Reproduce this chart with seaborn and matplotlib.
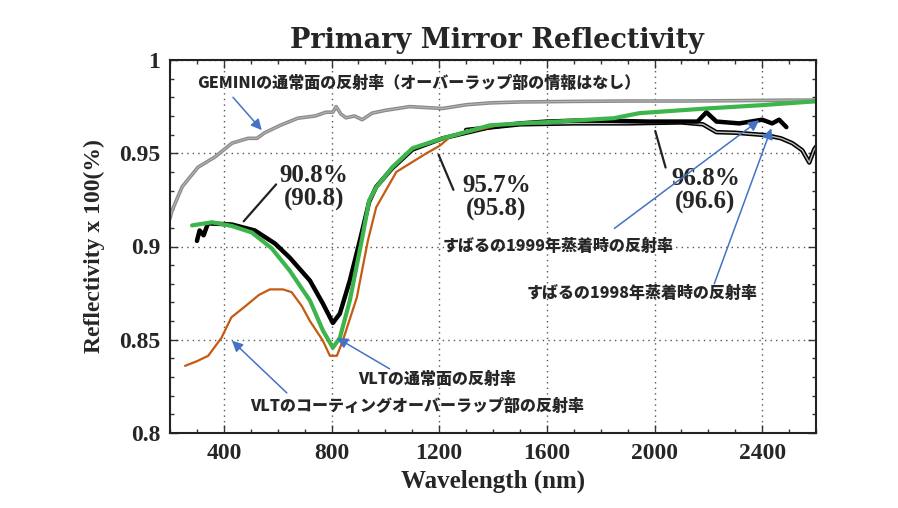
import matplotlib
matplotlib.use("Agg")
import matplotlib.pyplot as plt
import seaborn as sns
import pandas as pd
from matplotlib.ticker import MultipleLocator, FixedLocator

# wavelength (nm) / reflectivity
gemini_wl = [200, 207, 245, 304, 367, 430, 490, 523, 552, 610, 675, 740, 779, 805, 817, 835, 854,
             885, 914, 951, 1000, 1090, 1150, 1213, 1300, 1389, 1500, 1700, 1900, 2100, 2300, 2500, 2600]
gemini_r = [0.915, 0.919, 0.932, 0.9425, 0.948, 0.9554, 0.958, 0.958, 0.961, 0.965, 0.9688, 0.970,
            0.972, 0.972, 0.975, 0.971, 0.969, 0.970, 0.968, 0.9715, 0.973, 0.975, 0.9745, 0.974,
            0.976, 0.977, 0.9775, 0.9778, 0.978, 0.978, 0.9782, 0.9785, 0.9785]

vlt_wl = [282, 356, 430, 504, 578, 645, 720, 768, 805, 831, 868, 912, 940, 966, 1026, 1101, 1213,
          1389, 1500, 1602, 1849, 1944, 2193, 2400, 2563, 2600]
vlt_r = [0.9113, 0.913, 0.911, 0.9075, 0.899, 0.887, 0.871, 0.855, 0.8457, 0.851, 0.871, 0.903,
         0.9247, 0.9317, 0.9425, 0.9527, 0.958, 0.965, 0.9660, 0.9667, 0.9688, 0.9715, 0.974,
         0.9758, 0.9775, 0.9778]

overlap_wl = [256, 300, 342, 391, 428, 480, 530, 571, 620, 652, 690, 720, 768, 794, 820, 842, 894,
              935, 966, 1041, 1153, 1202, 1239, 1300, 1389, 1450]
overlap_r = [0.836, 0.8385, 0.8414, 0.851, 0.862, 0.868, 0.874, 0.877, 0.877, 0.8755, 0.868, 0.860,
             0.8495, 0.8414, 0.8414, 0.8495, 0.8726, 0.903, 0.921, 0.940, 0.950, 0.954, 0.9586,
             0.961, 0.964, 0.966]

subaru99_wl = [300, 310, 325, 341, 430, 515, 590, 645, 720, 768, 805, 831, 868, 905, 940, 966, 1026,
               1101, 1213, 1389, 1500, 1600, 1750, 1974, 2100, 2160, 2193, 2230, 2315, 2400, 2437,
               2463, 2490]
subaru99_r = [0.903, 0.9086, 0.906, 0.9124, 0.9118, 0.9086, 0.9016, 0.894, 0.8817, 0.8694, 0.859,
              0.864, 0.8817, 0.903, 0.924, 0.932, 0.942, 0.952, 0.958, 0.964, 0.966, 0.967, 0.9677,
              0.967, 0.967, 0.967, 0.972, 0.967, 0.966, 0.968, 0.966, 0.968, 0.964]

subaru98_wl = [1300, 1500, 1700, 1900, 2100, 2180, 2230, 2300, 2415, 2470, 2512, 2549, 2575, 2593, 2600]
subaru98_r = [0.9625, 0.9655, 0.966, 0.966, 0.9665, 0.9655, 0.9613, 0.961, 0.9597, 0.958, 0.9554,
              0.9516, 0.945, 0.952, 0.9535]

x_ticks = [400, 800, 1200, 1600, 2000, 2400]
y_ticks = [0.8, 0.85, 0.9, 0.95, 1.0]
y_tick_labels = ["0.8", "0.85", "0.9", "0.95", "1"]

sns.set_theme(style="ticks")
plt.rcParams['font.family'] = ['Liberation Serif', 'DejaVu Serif']
jp_font = ['Noto Sans CJK JP', 'DejaVu Sans']

fig = plt.figure(figsize=(8.98, 5.08), dpi=100)
ax = fig.add_axes([170 / 898, 1 - 433 / 508, (816 - 170) / 898, (433 - 60) / 508])

sns.lineplot(x=gemini_wl, y=gemini_r, ax=ax, color='#8a8a8a', lw=2.6, sort=False, estimator=None)
sns.lineplot(x=gemini_wl, y=gemini_r, ax=ax, color='#b5b5b5', lw=0.8, sort=False, estimator=None)
sns.lineplot(x=subaru98_wl, y=subaru98_r, ax=ax, color='black', lw=3.2, sort=False, estimator=None)
sns.lineplot(x=subaru98_wl, y=subaru98_r, ax=ax, color='#bdbdbd', lw=1.0, sort=False, estimator=None)
sns.lineplot(x=subaru99_wl, y=subaru99_r, ax=ax, color='black', lw=3.2, sort=False, estimator=None)
sns.lineplot(x=overlap_wl, y=overlap_r, ax=ax, color='#C55A11', lw=1.6, sort=False, estimator=None)
sns.lineplot(x=vlt_wl, y=vlt_r, ax=ax, color='#3DB54A', lw=3.0, sort=False, estimator=None)

ax.set_xlim(200, 2600)
ax.set_ylim(0.8, 1.0)
ax.xaxis.set_major_locator(FixedLocator(x_ticks))
ax.xaxis.set_minor_locator(MultipleLocator(100))
ax.set_yticks(y_ticks)
ax.set_yticklabels(y_tick_labels)
ax.yaxis.set_minor_locator(MultipleLocator(0.01))
ax.tick_params(which='both', direction='in', top=True, right=True, width=1.0, color='#333333')
ax.tick_params(which='major', length=6, labelsize=17, pad=7)
ax.tick_params(which='minor', length=3)
for lab in ax.get_xticklabels() + ax.get_yticklabels():
    lab.set_fontweight('bold')
ax.grid(True, which='major', color='#555555', lw=1.0, linestyle=(0, (1, 3)))
for s in ax.spines.values():
    s.set_linewidth(1.5)
    s.set_color('#222222')

ax.set_xlabel('Wavelength (nm)', fontsize=18, fontweight='bold', labelpad=4)
ax.set_ylabel('Reflectivity x 100(%)', fontsize=17, fontweight='bold', labelpad=10)
fig.text(497 / 898, 1 - 40 / 508, 'Primary Mirror Reflectivity', ha='center', va='center',
         fontsize=19.5, fontweight='bold', family='DejaVu Serif')

# black leader lines with percentage values
pct = dict(fontsize=18, fontweight='bold', ha='center', va='center', linespacing=1.0)
leader = dict(arrowstyle='-', color='#222222', lw=1.6)
ax.annotate('', xy=(467, 0.9124), xytext=(601, 0.9344), arrowprops=leader)
ax.text(735, 0.9317, '90.8%\n(90.8)', **pct)
ax.annotate('', xy=(1194, 0.9505), xytext=(1257, 0.929), arrowprops=leader)
ax.text(1413, 0.9263, '95.7%\n(95.8)', **pct)
ax.annotate('', xy=(2000, 0.9634), xytext=(2044, 0.9409), arrowprops=leader)
ax.text(2189, 0.930, '96.8%\n(96.6)', **pct)

# Japanese callouts with blue arrows
blue = dict(arrowstyle='-|>', color='#4472C4', lw=1.1, mutation_scale=16, shrinkA=0, shrinkB=0)
jp = dict(fontsize=11.5, fontweight='heavy', family=jp_font, ha='left', va='center')
ax.text(300, 0.988, 'GEMINIの通常面の反射率（オーバーラップ部の情報はなし）', **jp)
ax.annotate('', xy=(541, 0.9624), xytext=(434, 0.980), arrowprops=blue)
ax.text(1213, 0.9005, 'すばるの1999年蒸着時の反射率', **jp)
ax.annotate('', xy=(2389, 0.9677), xytext=(1851, 0.9097), arrowprops=blue)
ax.text(1525, 0.8753, 'すばるの1998年蒸着時の反射率', **jp)
ax.annotate('', xy=(2434, 0.9634), xytext=(2222, 0.880), arrowprops=blue)
ax.text(898, 0.829, 'VLTの通常面の反射率', **jp)
ax.annotate('', xy=(820, 0.851), xytext=(1016, 0.8344), arrowprops=blue)
ax.text(497, 0.8145, 'VLTのコーティングオーバーラップ部の反射率', **jp)
ax.annotate('', xy=(430, 0.8495), xytext=(634, 0.8215), arrowprops=blue)

fig.savefig('out.png', dpi=100)
